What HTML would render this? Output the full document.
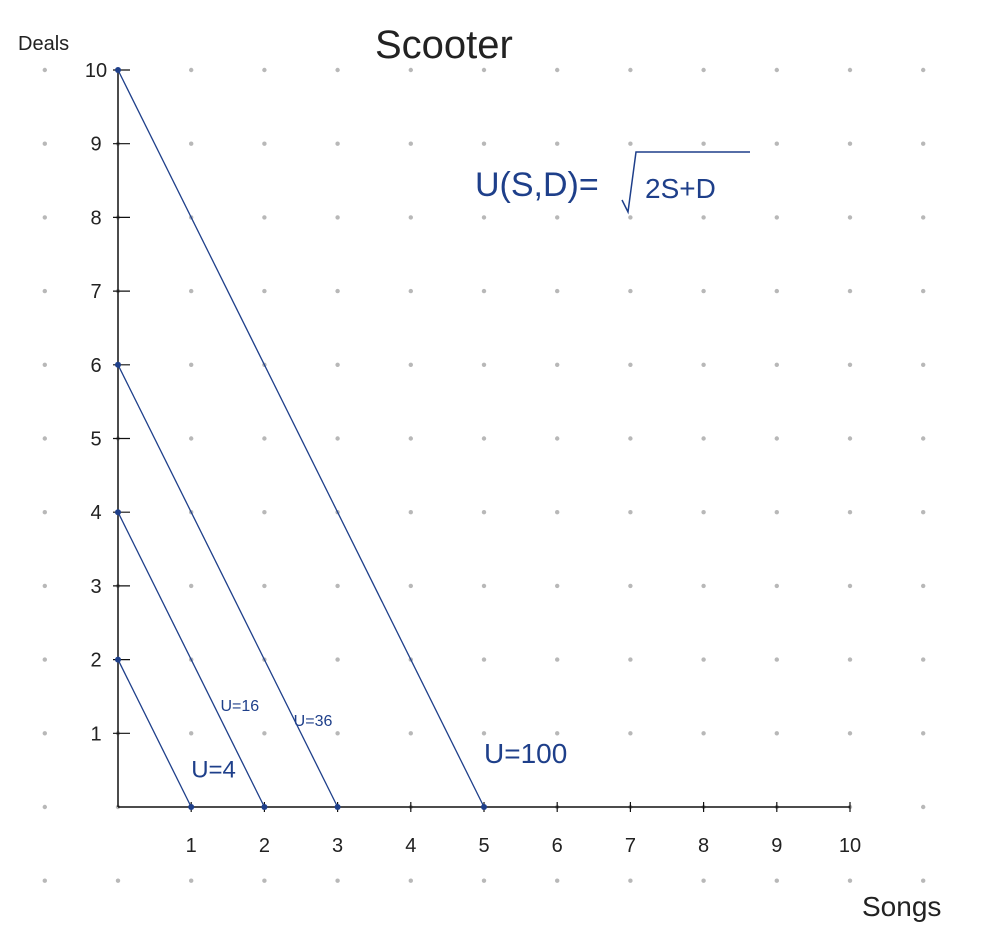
<!DOCTYPE html>
<html><head><meta charset="utf-8"><style>
html,body{margin:0;padding:0;background:#fff;}
svg{display:block;font-family:"Liberation Sans",sans-serif;}
</style></head><body>
<svg id="c" width="992" height="944" viewBox="0 0 992 944">
<g id="dots"></g>
<g id="axes"></g>
<g id="lines"></g>
<text x="375" y="58" font-size="40" fill="#222">Scooter</text>
<text x="18" y="50" font-size="20" fill="#222">Deals</text>
<text x="862" y="916" font-size="28" fill="#222">Songs</text>
<text x="475" y="196" font-size="34" fill="#1e3f8a">U(S,D)=</text>
<path d="M622 200 L628 212 L636 152 L750 152" fill="none" stroke="#1e3f8a" stroke-width="1.5"/>
<text x="645" y="198" font-size="28" fill="#1e3f8a">2S+D</text>
</svg>
<script>
const xTicks=[1,2,3,4,5,6,7,8,9,10];
const yTicks=[1,2,3,4,5,6,7,8,9,10];
const intercepts=[2,4,6,10];
const curveLabels=["U=4","U=16","U=36","U=100"];
const labelPos=[[1,0.4],[1.4,1.3],[2.4,1.1],[5,0.6]];
const ox=118,oy=807,ux=73.2,uy=73.7;
const X=s=>ox+s*ux, Y=d=>oy-d*uy;
const NS="http://www.w3.org/2000/svg";
function mk(t,a,p){const e=document.createElementNS(NS,t);for(const k in a)e.setAttribute(k,a[k]);p.appendChild(e);return e;}
const dots=document.getElementById('dots');
for(let i=-1;i<=11;i++)for(let j=-1;j<=10;j++){
 const d=mk('circle',{cx:X(i),cy:Y(j),r:2.2,fill:'#b8b8b8'},dots);
 
 
}
const ax=document.getElementById('axes');
const xa=mk('line',{x1:X(0),y1:Y(0),x2:X(10),y2:Y(0),stroke:'#111','stroke-width':1.5},ax);


const ya=mk('line',{x1:X(0),y1:Y(0),x2:X(0),y2:Y(10),stroke:'#111','stroke-width':1.5},ax);


xTicks.forEach(v=>{
 const t=mk('line',{x1:X(v),y1:Y(0)-5,x2:X(v),y2:Y(0)+5,stroke:'#111','stroke-width':1.2},ax);
 
 
 const l=mk('text',{x:X(v),y:Y(0)+45,'font-size':20,'text-anchor':'middle',fill:'#222'},ax);
 l.textContent=v;
 
 
});
yTicks.forEach(v=>{
 const t=mk('line',{x1:X(0)-5,y1:Y(v),x2:X(0)+12,y2:Y(v),stroke:'#111','stroke-width':1.2},ax);
 
 
 const l=mk('text',{x:X(0)-22,y:Y(v)+7,'font-size':20,'text-anchor':'middle',fill:'#222'},ax);
 l.textContent=v;
 
 
});
const lg=document.getElementById('lines');
intercepts.forEach((k,i)=>{
 const l=mk('line',{x1:X(0),y1:Y(k),x2:X(k/2),y2:Y(0),stroke:'#1e3f8a','stroke-width':1.3},lg);
 
 
 [[0,k],[k/2,0]].forEach(p=>{
  const c=mk('circle',{cx:X(p[0]),cy:Y(p[1]),r:3,fill:'#1e3f8a'},lg);
  
  
 });
 const t=mk('text',{x:X(labelPos[i][0]),y:Y(labelPos[i][1]),'font-size':i===3?28:(i===0?24:16),fill:'#1e3f8a'},lg);
 t.textContent=curveLabels[i];
 
 
});
</script>
</body></html>
